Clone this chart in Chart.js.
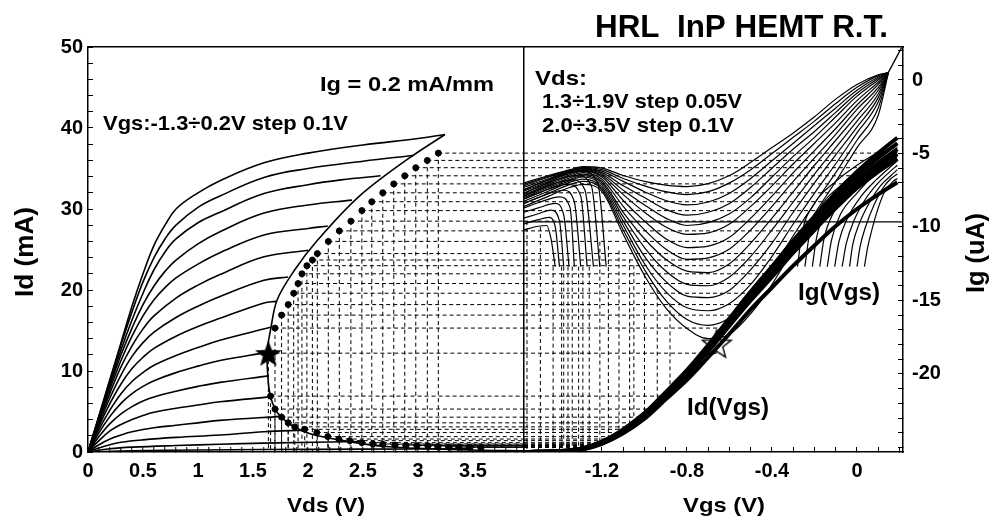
<!DOCTYPE html>
<html>
<head>
<meta charset="utf-8">
<title>HRL InP HEMT R.T.</title>
<script src="https://cdn.jsdelivr.net/npm/chart.js@4.4.1/dist/chart.umd.min.js"></script>
<style>
  html, body { margin: 0; padding: 0; background: #fff; }
</style>
</head>
<body>
<canvas id="myChart" width="991" height="519"></canvas>
<script>
// ---------- axis limits / ticks ----------
const VDS_MAX = 3.964;
const VGS_MIN = -1.567, VGS_MAX = 0.2165;
const IG_MIN = -25.31, IG_MAX = 2.245;
const vdsTicks = [0, 0.5, 1, 1.5, 2, 2.5, 3, 3.5];
const vgsTicks = [-1.2, -0.8, -0.4, 0];
const idTicks = [0, 10, 20, 30, 40, 50];
const igTicks = [0, -5, -10, -15, -20];

// ---------- left panel: Id(Vds), Vgs -1.3 .. 0.2 V step 0.1 V ----------
const outVgs = [0.2, 0.1, 0.0, -0.1, -0.2, -0.3, -0.4, -0.5, -0.6, -0.7, -0.8, -0.9, -1.0, -1.1, -1.2, -1.3];
const outVds = [
  [0, 0.1, 0.2, 0.3, 0.4, 0.5, 0.6, 0.7, 0.8, 1.0, 1.2, 1.6, 2.0, 2.5, 3.0, 3.245],
  [0, 0.1, 0.2, 0.3, 0.4, 0.5, 0.6, 0.7, 0.8, 1.0, 1.2, 1.6, 2.0, 2.5, 2.95],
  [0, 0.1, 0.2, 0.3, 0.4, 0.5, 0.6, 0.7, 0.8, 1.0, 1.2, 1.6, 2.0, 2.3, 2.66],
  [0, 0.1, 0.2, 0.3, 0.4, 0.5, 0.6, 0.7, 0.8, 1.0, 1.2, 1.6, 2.0, 2.4],
  [0, 0.1, 0.2, 0.3, 0.4, 0.5, 0.6, 0.7, 0.8, 1.0, 1.2, 1.6, 2.0, 2.18],
  [0, 0.1, 0.2, 0.3, 0.4, 0.5, 0.6, 0.8, 1.0, 1.2, 1.6, 2.0],
  [0, 0.1, 0.2, 0.3, 0.4, 0.5, 0.6, 0.8, 1.0, 1.2, 1.6, 1.82],
  [0, 0.1, 0.2, 0.3, 0.4, 0.5, 0.6, 0.8, 1.0, 1.2, 1.6, 1.71],
  [0, 0.1, 0.2, 0.3, 0.4, 0.5, 0.6, 0.8, 1.0, 1.2, 1.66],
  [0, 0.1, 0.2, 0.3, 0.4, 0.5, 0.6, 0.8, 1.0, 1.2, 1.63],
  [0, 0.1, 0.2, 0.3, 0.4, 0.5, 0.6, 0.8, 1.0, 1.2, 1.64],
  [0, 0.1, 0.2, 0.3, 0.4, 0.5, 0.6, 0.8, 1.0, 1.2, 1.66],
  [0, 0.1, 0.2, 0.3, 0.4, 0.6, 0.8, 1.0, 1.2, 1.76],
  [0, 0.1, 0.2, 0.3, 0.5, 0.8, 1.2, 1.6, 1.97],
  [0, 0.2, 0.4, 0.8, 1.2, 1.6, 2.5],
  [0, 0.4, 1.0, 1.6, 2.5, 3.5]
];
const outId = [
  [0, 4.5, 9, 13.5, 18, 22, 25.5, 28, 30, 32, 33.5, 35.7, 36.9, 37.9, 38.7, 39.2],
  [0, 4.4, 8.8, 13.2, 17.3, 21, 24, 26.3, 28, 30.2, 31.6, 33.9, 35.0, 35.9, 36.6],
  [0, 4.3, 8.5, 12.6, 16.3, 19.6, 22.5, 24.7, 26.3, 28.3, 29.6, 31.9, 33.0, 33.6, 34.1],
  [0, 4.2, 8.2, 12, 15.3, 18.2, 20.5, 22.3, 23.7, 25.7, 27.2, 29.5, 30.5, 31.1],
  [0, 4, 7.8, 11.3, 14.3, 16.8, 18.8, 20.3, 21.5, 23.2, 24.6, 26.8, 27.6, 27.9],
  [0, 3.8, 7.3, 10.5, 13.1, 15.2, 16.8, 19.0, 20.6, 21.9, 24.1, 24.9],
  [0, 3.5, 6.7, 9.5, 11.8, 13.5, 14.8, 16.6, 18.0, 19.2, 21.2, 21.6],
  [0, 3.2, 6.0, 8.4, 10.3, 11.7, 12.8, 14.3, 15.5, 16.5, 18.4, 18.6],
  [0, 2.8, 5.2, 7.2, 8.7, 9.8, 10.7, 11.9, 12.9, 13.8, 15.4],
  [0, 2.4, 4.4, 6.0, 7.2, 8.1, 8.8, 9.8, 10.6, 11.3, 12.3],
  [0, 1.9, 3.5, 4.7, 5.6, 6.3, 6.8, 7.5, 8.1, 8.6, 9.4],
  [0, 1.4, 2.6, 3.4, 4.0, 4.5, 4.9, 5.4, 5.8, 6.2, 6.8],
  [0, 0.9, 1.6, 2.1, 2.5, 3.0, 3.3, 3.6, 3.9, 4.4],
  [0, 0.5, 0.9, 1.2, 1.5, 1.8, 2.1, 2.5, 2.7],
  [0, 0.4, 0.6, 0.8, 0.95, 1.1, 1.3],
  [0, 0.15, 0.25, 0.3, 0.35, 0.4]
];

// Ig = 0.2 mA/mm boundary
const envVds = [3.245, 2.89, 2.46, 2.09, 1.88, 1.72, 1.66, 1.63, 1.63, 1.66, 1.75, 1.97, 2.28, 2.74, 3.5, 3.96];
const envId = [39.2, 36.0, 31.5, 26.2, 22.5, 18.8, 15.1, 12.6, 10.5, 6.8, 4.4, 2.5, 1.5, 0.65, 0.25, 0.15];

// measured points and where their guide lines meet Id(Vgs)
const dotVds = [3.185, 3.085, 2.98, 2.88, 2.78, 2.68, 2.58, 2.49, 2.39, 2.285, 2.185, 2.085, 2.04, 1.99, 1.945, 1.91, 1.87, 1.82, 1.76, 1.70,
  1.66, 1.70, 1.76, 1.82, 1.88, 1.97, 2.08, 2.18, 2.28, 2.38, 2.49, 2.59, 2.68, 2.79, 2.89, 2.99, 3.09, 3.18, 3.28, 3.37, 3.47, 3.57];
const dotId = [36.9, 36.0, 35.1, 34.1, 33.1, 32.0, 30.9, 29.8, 28.5, 27.3, 26.0, 24.5, 23.7, 23.0, 22.0, 20.8, 19.6, 18.2, 16.9, 15.3,
  6.9, 5.3, 4.3, 3.6, 3.1, 2.8, 2.4, 1.9, 1.6, 1.4, 1.15, 1.0, 0.95, 0.86, 0.8, 0.78, 0.74, 0.65, 0.6, 0.58, 0.58, 0.58];
const dotEndVgs = [0.12, 0.09, 0.05, 0.01, -0.03, -0.07, -0.10, -0.14, -0.18, -0.22, -0.26, -0.31, -0.33, -0.36, -0.39, -0.43, -0.47, -0.52, -0.56, -0.61,
  -0.90, -0.96, -1.00, -1.04, -1.07, -1.09, -1.11, -1.14, -1.16, -1.17, -1.20, -1.22, -1.23, -1.24, -1.25, -1.25, -1.26, -1.27, -1.28, -1.28, -1.28, -1.28];
const starVds = 1.64, starId = 12.2, starVgs = -0.66, starIdR = 13.4;
const refLineId = 28.4;

// ---------- right panel ----------
// Id(Vgs) for Vds 1.3, 1.8, 2.0, 2.5, 3.0, 3.5 V
const tfVgs = [-1.567, -1.5, -1.4, -1.3, -1.2, -1.1, -1.0, -0.9, -0.8, -0.7, -0.6, -0.5, -0.4, -0.3, -0.2, -0.1, 0, 0.1, 0.19];
const tfId = [
  [0, 0.02, 0.07, 0.25, 1.0, 2.3, 4.1, 6.5, 8.9, 11.7, 14.6, 17.6, 20.3, 23.0, 25.5, 27.9, 30.0, 31.8, 33.3],
  [0, 0.02, 0.08, 0.3, 1.1, 2.5, 4.4, 6.9, 9.5, 12.4, 15.6, 18.7, 21.6, 24.6, 27.4, 30.1, 32.6, 34.6, 36.2],
  [0, 0.02, 0.09, 0.32, 1.15, 2.55, 4.5, 7.0, 9.6, 12.6, 15.8, 18.9, 21.9, 24.9, 27.8, 30.5, 33.0, 35.1, 36.8],
  [0, 0.03, 0.1, 0.35, 1.2, 2.6, 4.6, 7.1, 9.8, 12.8, 16.0, 19.2, 22.2, 25.3, 28.2, 31.0, 33.5, 35.6, 37.4],
  [0, 0.03, 0.11, 0.38, 1.25, 2.7, 4.7, 7.25, 9.95, 13.0, 16.3, 19.5, 22.6, 25.7, 28.7, 31.5, 34.1, 36.3, 38.1],
  [0, 0.03, 0.12, 0.4, 1.3, 2.8, 4.8, 7.4, 10.1, 13.2, 16.5, 19.8, 22.9, 26.1, 29.1, 32.0, 34.6, 36.9, 38.8]
];

// Ig(Vgs), upper family
const igVgs = [-1.567, -1.45, -1.35, -1.29, -1.2, -1.1, -1.0, -0.9, -0.8, -0.7, -0.6, -0.5, -0.4, -0.3, -0.2, -0.1, 0, 0.1, 0.147];
const igA = [
  [-7.0, -6.5, -6.1, -5.9, -6.0, -6.5, -6.9, -7.15, -7.25, -7.05, -6.5, -5.6, -4.6, -3.6, -2.5, -1.3, -0.3, 0.35, 0.5],
  [-7.1, -6.55, -6.15, -5.95, -6.1, -6.7, -7.2, -7.6, -7.8, -7.6, -7.0, -6.1, -5.0, -3.9, -2.8, -1.6, -0.5, 0.3, 0.5],
  [-7.2, -6.6, -6.2, -6.0, -6.2, -6.9, -7.6, -8.2, -8.5, -8.3, -7.7, -6.7, -5.5, -4.3, -3.1, -1.9, -0.7, 0.2, 0.5],
  [-7.3, -6.7, -6.25, -6.05, -6.3, -7.2, -8.0, -8.8, -9.2, -9.0, -8.4, -7.3, -6.0, -4.7, -3.5, -2.2, -0.9, 0.1, 0.5],
  [-7.45, -6.8, -6.3, -6.1, -6.4, -7.5, -8.5, -9.4, -9.9, -9.7, -9.1, -8.0, -6.6, -5.2, -3.9, -2.5, -1.1, 0.0, 0.5],
  [-7.55, -6.9, -6.35, -6.15, -6.5, -7.8, -9.0, -10.0, -10.5, -10.4, -9.8, -8.6, -7.2, -5.7, -4.3, -2.9, -1.4, -0.15, 0.5],
  [-7.7, -7.0, -6.45, -6.2, -6.6, -8.2, -9.6, -10.8, -11.4, -11.3, -10.7, -9.4, -7.9, -6.3, -4.8, -3.3, -1.7, -0.3, 0.5],
  [-7.8, -7.1, -6.55, -6.3, -6.75, -8.6, -10.2, -11.5, -12.2, -12.1, -11.5, -10.2, -8.6, -6.9, -5.3, -3.7, -2.0, -0.5, 0.5],
  [-7.9, -7.2, -6.65, -6.4, -6.9, -9.0, -10.8, -12.2, -13.0, -13.1, -12.5, -11.1, -9.4, -7.6, -5.8, -4.1, -2.4, -0.7, 0.5],
  [-8.0, -7.3, -6.75, -6.5, -7.0, -9.3, -11.4, -13.0, -13.9, -14.0, -13.4, -12.0, -10.2, -8.3, -6.4, -4.6, -2.8, -0.95, 0.5],
  [-8.1, -7.4, -6.85, -6.6, -7.15, -9.6, -12.0, -13.7, -14.7, -14.8, -14.3, -12.9, -11.1, -9.0, -7.0, -5.1, -3.2, -1.2, 0.5],
  [-8.25, -7.55, -6.95, -6.75, -7.3, -9.9, -12.5, -14.4, -15.5, -15.7, -15.2, -13.9, -12.0, -9.8, -7.7, -5.7, -3.6, -1.5, 0.45],
  [-8.4, -7.7, -7.1, -6.9, -7.45, -10.2, -12.9, -15.0, -16.3, -16.7, -16.2, -14.9, -12.9, -10.6, -8.4, -6.3, -4.1, -1.9, 0.45],
  [-8.6, -7.9, -7.3, -7.1, -7.6, -10.5, -13.3, -15.5, -16.9, -17.6, -17.3, -15.9, -13.9, -11.5, -9.1, -6.9, -4.6, -2.4, 0.45]
];
const igTopVgs = [0.147, 0.21];
const igTop = [0.5, 2.2];

// Ig(Vgs), lower family (leaves the frame at about -12.7 uA)
const igBLeftVgs = [
  [-1.567, -1.5, -1.46, -1.44, -1.42], [-1.567, -1.5, -1.45, -1.42, -1.40],
  [-1.567, -1.5, -1.44, -1.40, -1.38], [-1.567, -1.5, -1.42, -1.38, -1.355],
  [-1.567, -1.5, -1.40, -1.35, -1.33], [-1.567, -1.5, -1.38, -1.33, -1.30],
  [-1.567, -1.5, -1.36, -1.30, -1.27], [-1.567, -1.5, -1.34, -1.28, -1.24],
  [-1.567, -1.5, -1.32, -1.25, -1.21], [-1.567, -1.5, -1.30, -1.22, -1.18]
];
const igBLeft = [
  [-10.2, -9.95, -9.9, -10.8, -12.7], [-9.8, -9.5, -9.35, -10.0, -12.7],
  [-9.4, -9.1, -8.85, -9.6, -12.7], [-9.0, -8.7, -8.4, -9.2, -12.7],
  [-8.7, -8.35, -7.95, -8.7, -12.7], [-8.4, -8.0, -7.5, -8.3, -12.7],
  [-8.1, -7.7, -7.1, -7.9, -12.7], [-7.9, -7.45, -6.8, -7.5, -12.7],
  [-7.7, -7.25, -6.5, -7.2, -12.7], [-7.5, -7.05, -6.2, -7.0, -12.7]
];
const igBRightVgs = [
  [-0.28, -0.26, -0.2, -0.1, 0, 0.1, 0.19], [-0.245, -0.225, -0.17, -0.07, 0.02, 0.1, 0.19],
  [-0.21, -0.19, -0.14, -0.05, 0.04, 0.12, 0.19], [-0.175, -0.155, -0.11, -0.03, 0.05, 0.13, 0.19],
  [-0.14, -0.12, -0.08, 0.0, 0.07, 0.14, 0.19], [-0.105, -0.085, -0.045, 0.02, 0.09, 0.15, 0.19],
  [-0.07, -0.05, -0.015, 0.04, 0.1, 0.15, 0.19], [-0.035, -0.02, 0.01, 0.06, 0.11, 0.16, 0.19],
  [0.0, 0.015, 0.04, 0.08, 0.12, 0.16, 0.19], [0.035, 0.05, 0.07, 0.1, 0.13, 0.17, 0.19]
];
const igBRight = [
  [-12.7, -10.5, -8.4, -6.9, -5.8, -4.9, -4.0], [-12.7, -10.6, -8.6, -7.1, -6.0, -5.1, -4.3],
  [-12.7, -10.7, -8.8, -7.3, -6.2, -5.3, -4.6], [-12.7, -10.8, -9.0, -7.5, -6.4, -5.5, -4.9],
  [-12.7, -10.9, -9.2, -7.7, -6.6, -5.7, -5.2], [-12.7, -11.0, -9.4, -7.9, -6.8, -6.0, -5.5],
  [-12.7, -11.1, -9.6, -8.1, -7.0, -6.3, -5.8], [-12.7, -11.2, -9.8, -8.3, -7.2, -6.5, -6.1],
  [-12.7, -11.3, -10.0, -8.5, -7.4, -6.7, -6.4], [-12.7, -11.4, -10.2, -8.7, -7.6, -6.9, -6.7]
];

// vertical guides in the right panel (Ig units)
const rVertVgs = [-1.553, -1.49, -1.43, -1.39, -1.38, -1.36, -1.34, -1.31, -1.29, -1.26, -1.21, -1.17, -1.12, -1.07, -1.05, -1.00, -0.94, -0.88];
const rVertTop = [-9.6, -10.0, -12.7, -12.7, -12.7, -12.7, -12.7, -12.7, -12.7, -12.7, -11.0, -11.3, -11.6, -12.2, -12.6, -13.2, -14.2, -15.2];
const rVertBottom = [-25.3, -25.3, -25.3, -25.3, -25.3, -25.3, -25.3, -25.3, -25.3, -25.0, -24.7, -24.4, -24.1, -23.6, -23.4, -22.9, -22.1, -21.1];

// ---------- build datasets ----------
function pts(xs, ys) { return xs.map((x, i) => ({x: x, y: ys[i]})); }

const datasets = [];
function line(data, xID, yID, width, extra) {
  datasets.push(Object.assign({
    data: data, xAxisID: xID, yAxisID: yID, showLine: true,
    borderColor: '#000', borderWidth: width, pointRadius: 0, fill: false,
    cubicInterpolationMode: 'monotone', order: 2
  }, extra || {}));
}
const dashed = {borderDash: [4, 3], tension: 0, cubicInterpolationMode: 'default', order: 3};
const smooth = {cubicInterpolationMode: 'default', tension: 0.4};

function starImage(size, filled) {
  const cv = document.createElement('canvas');
  cv.width = size; cv.height = size;
  const g = cv.getContext('2d');
  const c = size / 2, r = size / 2 - 1, ri = r * 0.42;
  g.beginPath();
  for (let k = 0; k < 10; k++) {
    const a = -Math.PI / 2 + k * Math.PI / 5;
    const rr = k % 2 ? ri : r;
    g.lineTo(c + rr * Math.cos(a), c + 1.5 + rr * Math.sin(a));
  }
  g.closePath();
  if (filled) { g.fillStyle = '#000'; g.fill(); }
  else { g.strokeStyle = '#000'; g.lineWidth = 1.4; g.stroke(); }
  return cv;
}

// guide lines from every point (and the star): down to the axis, right to Id(Vgs)
const gVds = dotVds.concat([starVds]);
const gId = dotId.concat([starId]);
const gEnd = dotEndVgs.concat([starVgs]);
const guideLeft = [], guideRight = [];
for (let i = 0; i < gVds.length; i++) {
  guideLeft.push({x: gVds[i], y: gId[i]}, {x: gVds[i], y: 0}, {x: gVds[i], y: null});
  guideLeft.push({x: gVds[i], y: gId[i]}, {x: VDS_MAX, y: gId[i]}, {x: VDS_MAX, y: null});
  guideRight.push({x: VGS_MIN, y: gId[i]}, {x: gEnd[i], y: gId[i]}, {x: gEnd[i], y: null});
}
const guideVert = [];
for (let i = 0; i < rVertVgs.length; i++) {
  guideVert.push({x: rVertVgs[i], y: rVertTop[i]}, {x: rVertVgs[i], y: rVertBottom[i]}, {x: rVertVgs[i], y: null});
}

line(guideLeft, 'xVds', 'yId', 1, dashed);
line(guideRight, 'xVgs', 'yId', 1, dashed);
line(guideVert, 'xVgs', 'yIg', 1, dashed);
line(pts([VGS_MIN, VGS_MAX], [refLineId, refLineId]), 'xVgs', 'yId', 1.2, {tension: 0, cubicInterpolationMode: 'default', order: 3});

outVds.forEach((xs, i) => line(pts(xs, outId[i]), 'xVds', 'yId', 1.6, smooth));
line(pts(envVds, envId), 'xVds', 'yId', 1.6, {cubicInterpolationMode: 'default', tension: 0.35});

igA.forEach(row => line(pts(igVgs, row), 'xVgs', 'yIg', 1.2));
igBLeftVgs.forEach((xs, i) => line(pts(xs, igBLeft[i]), 'xVgs', 'yIg', 1.2));
igBRightVgs.forEach((xs, i) => line(pts(xs, igBRight[i]), 'xVgs', 'yIg', 1.2));
line(pts(igTopVgs, igTop), 'xVgs', 'yIg', 1.3, {tension: 0, cubicInterpolationMode: 'default'});
tfId.forEach(row => line(pts(tfVgs, row), 'xVgs', 'yId', 4, {order: 1.5}));

datasets.push({data: pts(dotVds, dotId), xAxisID: 'xVds', yAxisID: 'yId', showLine: false,
  pointRadius: 3, backgroundColor: '#000', borderColor: '#000', order: 1});
datasets.push({data: [{x: starVds, y: starId}], xAxisID: 'xVds', yAxisID: 'yId', showLine: false,
  pointRadius: 10, pointStyle: starImage(30, true), order: 0});
datasets.push({data: [{x: starVgs, y: starIdR}], xAxisID: 'xVgs', yAxisID: 'yId', showLine: false,
  pointRadius: 10, pointStyle: starImage(32, false), order: 0});

// ---------- text ----------
function put(c, s, x, y, size, w, rot) {
  c.save();
  c.font = 'bold ' + size + 'px "Liberation Sans", Arial, sans-serif';
  const nat = c.measureText(s).width;
  c.translate(x, y);
  if (rot) c.rotate(rot);
  c.scale(w / nat, 1);
  c.textAlign = 'left';
  c.textBaseline = 'alphabetic';
  c.fillStyle = '#000';
  c.fillText(s, 0, 0);
  c.restore();
}
const labelPlugin = {
  id: 'labels',
  afterDraw(chart) {
    const c = chart.ctx;
    put(c, 'HRL  InP HEMT R.T.', 595, 37, 30.5, 293);
    put(c, 'Ig = 0.2 mA/mm', 320, 91, 20, 174);
    put(c, 'Vgs:-1.3÷0.2V step 0.1V', 103, 130, 21, 245);
    put(c, 'Vds:', 535, 85, 21, 52);
    put(c, '1.3÷1.9V step 0.05V', 542, 108, 21, 200);
    put(c, '2.0÷3.5V step 0.1V', 542, 132, 21, 192);
    put(c, 'Ig(Vgs)', 798, 300, 23.5, 82);
    put(c, 'Id(Vgs)', 687, 415, 23.5, 82);
    put(c, 'Vds (V)', 287, 512, 21, 78);
    put(c, 'Vgs (V)', 683, 512, 21, 82);
    put(c, 'Id (mA)', 33, 297, 25, 90, -Math.PI / 2);
    put(c, 'Ig (uA)', 984, 293, 25, 80, -Math.PI / 2);
  }
};

// minor tick positions (frame ticks point inward)
function steps(from, to, step) {
  const out = [];
  for (let v = from; v <= to + 1e-9; v += step) out.push(Math.round(v * 1000) / 1000);
  return out;
}
function isMajor(v, list) { return list.some(m => Math.abs(m - v) < 1e-6); }

// ---------- chart ----------
Chart.defaults.font.family = '"Liberation Sans", Arial, sans-serif';
Chart.defaults.font.weight = 'bold';
Chart.defaults.font.size = 20;
Chart.defaults.color = '#000';

const frame = {color: '#000', width: 1.5};
const inward = {tickLength: -5, tickColor: '#000', tickWidth: 1};
const ctx = document.getElementById('myChart').getContext('2d');
const myChart = new Chart(ctx, {
  type: 'scatter',
  data: {datasets: datasets},
  options: {
    responsive: false,
    animation: false,
    events: [],
    layout: {padding: {top: 47, left: 0, right: 0, bottom: 0}},
    plugins: {legend: {display: false}, tooltip: {enabled: false}},
    scales: {
      xVds: {
        type: 'linear', position: 'bottom', stack: 'panels', stackWeight: 436,
        min: 0, max: VDS_MAX,
        afterBuildTicks: s => { s.ticks = steps(0, 3.9, 0.1).concat([VDS_MAX]).map(v => ({value: v})); },
        afterFit: s => { s.height = 67; },
        ticks: {autoSkip: false, maxRotation: 0, padding: 12,
          callback: v => (isMajor(v, vdsTicks) ? String(v) : '')},
        grid: Object.assign({lineWidth: 1.5,
          color: c => (c.tick && c.tick.value === VDS_MAX ? '#000' : 'rgba(0,0,0,0)')}, inward),
        border: frame
      },
      xVgs: {
        type: 'linear', position: 'bottom', stack: 'panels', stackWeight: 379,
        min: VGS_MIN, max: VGS_MAX,
        afterBuildTicks: s => { s.ticks = steps(-1.5, 0.2, 0.1).map(v => ({value: v})); },
        afterFit: s => { s.height = 67; },
        ticks: {autoSkip: false, maxRotation: 0, padding: 12,
          callback: v => (isMajor(v, vgsTicks) ? String(v) : '')},
        grid: Object.assign({drawOnChartArea: false}, inward),
        border: frame
      },
      xTop: {
        type: 'linear', position: 'top', min: 0, max: 1,
        afterFit: s => { s.height = 0; },
        ticks: {display: false},
        grid: {display: false, drawTicks: false},
        border: frame
      },
      yId: {
        type: 'linear', position: 'left', min: 0, max: 50,
        afterBuildTicks: s => { s.ticks = steps(0, 50, 2).map(v => ({value: v})); },
        afterFit: s => { s.width = 88; },
        ticks: {autoSkip: false, padding: 10, callback: v => (isMajor(v, idTicks) ? String(v) : '')},
        grid: Object.assign({drawOnChartArea: false}, inward),
        border: frame
      },
      yIg: {
        type: 'linear', position: 'right', min: IG_MIN, max: IG_MAX,
        afterBuildTicks: s => { s.ticks = steps(-25, 2, 1).map(v => ({value: v})); },
        afterFit: s => { s.width = 88; },
        ticks: {autoSkip: false, padding: 14, callback: v => (isMajor(v, igTicks) ? String(v) : '')},
        grid: Object.assign({drawOnChartArea: false}, inward),
        border: frame
      }
    }
  },
  plugins: [labelPlugin]
});
</script>
</body>
</html>
